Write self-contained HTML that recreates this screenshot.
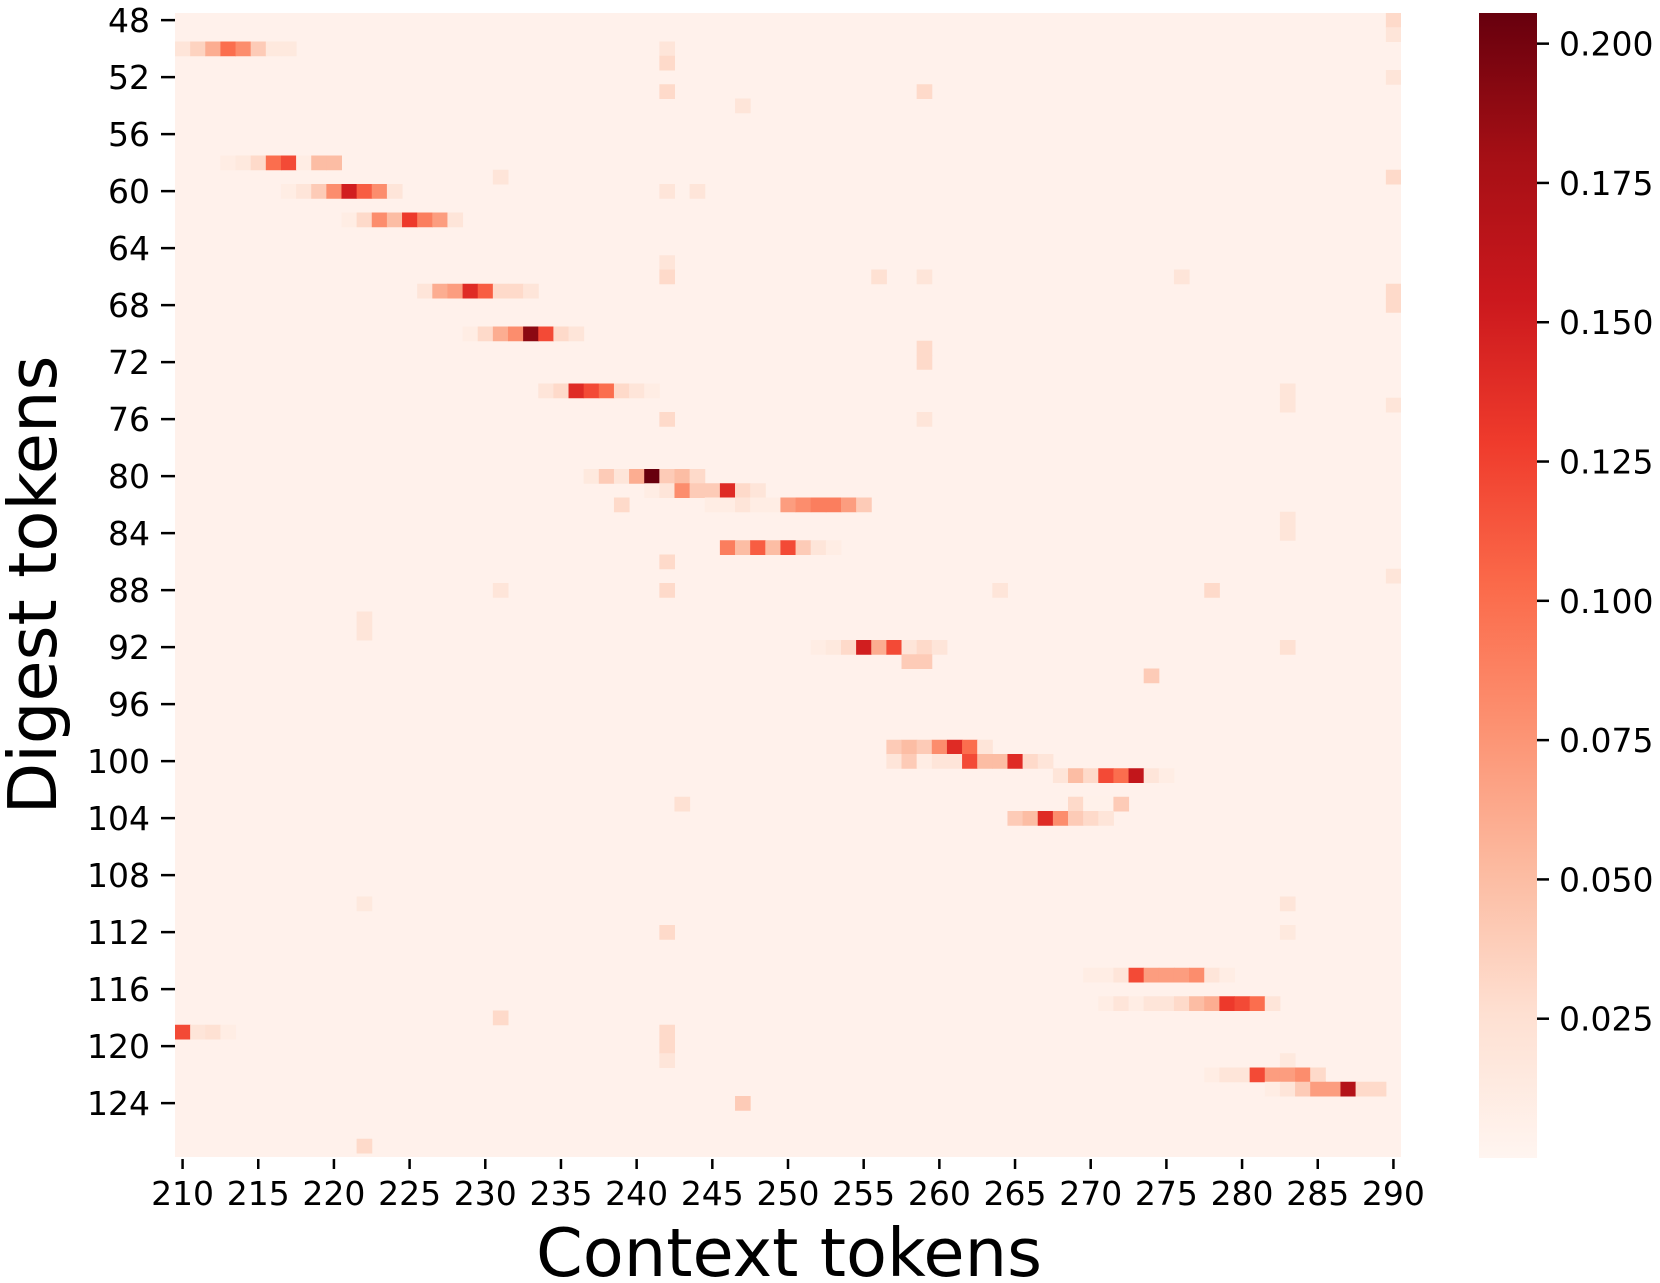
<!DOCTYPE html>
<html><head><meta charset="utf-8">
<style>
html,body{margin:0;padding:0;background:#fff;}
svg{display:block;font-family:"DejaVu Sans","Liberation Sans",sans-serif;}
</style></head>
<body>
<svg id="chart" width="1660" height="1283" viewBox="0 0 1660 1283" xmlns="http://www.w3.org/2000/svg">
  <defs><clipPath id="hmclip"><rect x="175" y="13" width="1226" height="1144"/></clipPath></defs>
  <g id="cells" clip-path="url(#hmclip)"></g>
  <g id="axes"></g>
  <g id="cbar"></g>
  <text x="789" y="1276" font-size="67" text-anchor="middle">Context tokens</text>
  <text transform="translate(56,585) rotate(-90)" font-size="67" text-anchor="middle">Digest tokens</text>
</svg>
<script>
// ---- data ----
const colFirst = 210, colLast = 290;
const rowFirst = 48, rowLast = 128;
const baseValue = 0.0045;
const xTickLabels = [210,215,220,225,230,235,240,245,250,255,260,265,270,275,280,285,290];
const yTickLabels = [48,52,56,60,64,68,72,76,80,84,88,92,96,100,104,108,112,116,120,124];
const cbarTicks = [0.025,0.050,0.075,0.100,0.125,0.150,0.175,0.200];
const vmin = 0, vmax = 0.2055;
const segRows  = [50,58,60,62,67,70,74,80,81,82,85,92,93,99,100,101,103,104,115,117,119,122,123];
const segStart = [210,213,217,221,226,229,234,237,241,245,246,252,258,257,257,268,269,265,270,271,210,278,282];
const segVals = [
 [.02,.035,.06,.10,.08,.04,.015,.015],
 [.01,.015,.03,.10,.12,.01,.05,.05],
 [.01,.02,.04,.08,.15,.11,.08,.02],
 [.01,.03,.08,.05,.13,.09,.07,.02],
 [.02,.06,.07,.14,.11,.03,.03,.02],
 [.01,.03,.06,.08,.19,.12,.03,.02],
 [.02,.03,.14,.12,.10,.03,.02,.01],
 [.015,.04,.02,.06,.205,.04,.05,.03],
 [.01,.02,.08,.04,.04,.14,.03,.02],
 [.01,.01,.02,.01,.01,.07,.08,.09,.09,.07,.04],
 [.09,.05,.11,.05,.12,.04,.02,.01],
 [.01,.015,.03,.15,.06,.12,.02,.03,.02],
 [.04,.04],
 [.04,.05,.04,.08,.14,.10,.02],
 [.02,.04,.01,.02,.02,.12,.05,.05,.14,.03,.02],
 [.02,.05,.03,.12,.10,.16,.02,.01],
 [.03,.005,.005,.04],
 [.04,.05,.14,.08,.04,.03,.02],
 [.01,.01,.02,.12,.07,.07,.07,.08,.02,.01],
 [.01,.02,.01,.02,.02,.03,.05,.06,.13,.12,.10,.02],
 [.12,.02,.025,.01],
 [.01,.02,.02,.12,.07,.07,.08,.03],
 [.01,.02,.04,.07,.07,.17,.03,.03]
];
const dotRows = [51,50,53,60,65,66,76,86,112,119,120,121,48,49,52,59,67,68,75,87,53,71,72,76,90,91,110,127,74,75,83,84,92,110,112,121,54,124,118,66,88,88,94,103,59,60,66,66,82,88,88];
const dotCols = [242,242,242,242,242,242,242,242,242,242,242,242,290,290,290,290,290,290,290,290,259,259,259,259,222,222,222,222,283,283,283,283,283,283,283,283,247,247,231,256,278,264,274,243,231,244,276,259,239,242,231];
const dotVals = [.03,.02,.03,.02,.02,.03,.03,.03,.03,.03,.03,.02,.03,.02,.02,.03,.03,.03,.02,.02,.03,.03,.03,.02,.02,.02,.015,.03,.02,.02,.02,.02,.025,.02,.015,.015,.02,.04,.03,.025,.03,.02,.04,.025,.02,.02,.02,.02,.03,.03,.02];

// ---- geometry ----
const X0 = 175, X1 = 1401, Y0 = 13, Y1 = 1157;
const cw = (X1 - X0) / (colLast - colFirst + 1);
const ch = 14.25;
const xOf = c => X0 + (c - colFirst) * cw;
const yOf = r => Y0 + (r - rowFirst) * ch;
const CB = {x0:1479, x1:1537, y0:13, y1:1158};
const cbY = v => CB.y1 - (v - vmin) / (vmax - vmin) * (CB.y1 - CB.y0);

const stops = ["#fff5f0","#fee0d2","#fcbba1","#fc9272","#fb6a4a","#ef3b2c","#cb181d","#a50f15","#67000d"];
function hex(h){return [1,3,5].map(i=>parseInt(h.substr(i,2),16));}
const stopRGB = stops.map(hex);
function color(v){
  let t = Math.max(0, Math.min(1, (v - vmin) / (vmax - vmin)));
  const p = t * (stops.length - 1); const i = Math.min(stops.length - 2, Math.floor(p)); const f = p - i;
  const a = stopRGB[i], b = stopRGB[i+1];
  return "rgb(" + a.map((x,k)=>Math.round(x + (b[k]-x)*f)).join(",") + ")";
}
const NS = "http://www.w3.org/2000/svg";
function mk(tag, attrs, parent){const e=document.createElementNS(NS,tag);for(const k in attrs)e.setAttribute(k,attrs[k]);parent.appendChild(e);return e;}

const grid = {};
for (let r = rowFirst; r <= rowLast; r++) for (let c = colFirst; c <= colLast; c++) grid[r+"_"+c] = baseValue;
segRows.forEach((r,i)=>segVals[i].forEach((v,j)=>{grid[r+"_"+(segStart[i]+j)] = v;}));
dotRows.forEach((r,i)=>{grid[r+"_"+dotCols[i]] = dotVals[i];});

const cells = document.getElementById("cells");
const bg = mk("rect",{x:X0,y:Y0,width:X1-X0,height:Y1-Y0,fill:color(baseValue)},cells);


for (const key in grid) {
  const v = grid[key]; if (v === baseValue) continue;
  const [r,c] = key.split("_").map(Number);
  const e = mk("rect",{x:xOf(c).toFixed(2),y:yOf(r).toFixed(2),width:(cw+0.5).toFixed(2),height:(ch+0.5).toFixed(2),fill:color(v)},cells);
  
  
}

const axes = document.getElementById("axes");
xTickLabels.forEach(t=>{
  const x = xOf(t) + cw/2;
  const l = mk("line",{x1:x,x2:x,y1:Y1+2,y2:Y1+12,stroke:"#000","stroke-width":2.5},axes);
  
  
  const tx = mk("text",{x:x,y:1205,"font-size":33,"text-anchor":"middle"},axes);
  tx.textContent = t;
  
  
});
yTickLabels.forEach(t=>{
  const y = yOf(t) + ch/2;
  const l = mk("line",{x1:X0-14,x2:X0,y1:y,y2:y,stroke:"#000","stroke-width":2.5},axes);
  
  
  const tx = mk("text",{x:150,y:y+12,"font-size":33,"text-anchor":"end"},axes);
  tx.textContent = t;
  
  
});

const cbar = document.getElementById("cbar");
const defs = mk("defs",{},cbar);
const grad = mk("linearGradient",{id:"cbg",x1:0,y1:1,x2:0,y2:0},defs);
stops.forEach((s,i)=>mk("stop",{offset:(i/(stops.length-1)),"stop-color":s},grad));
const cr = mk("rect",{x:CB.x0,y:CB.y0,width:CB.x1-CB.x0,height:CB.y1-CB.y0,fill:"url(#cbg)"},cbar);


cbarTicks.forEach(t=>{
  const y = cbY(t);
  const l = mk("line",{x1:CB.x1,x2:CB.x1+12,y1:y,y2:y,stroke:"#000","stroke-width":2.5},cbar);
  
  
  const tx = mk("text",{x:1559,y:y+12,"font-size":33},cbar);
  tx.textContent = t.toFixed(3);
  
  
});
</script>
</body></html>
